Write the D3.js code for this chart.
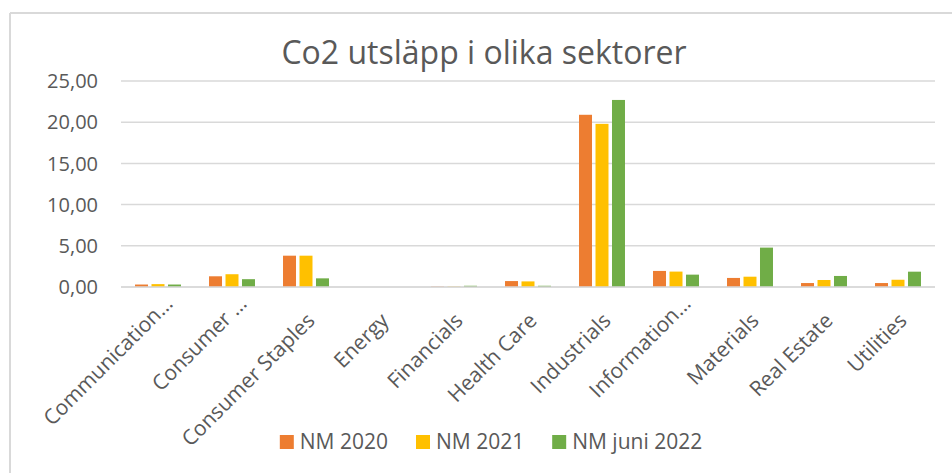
<!DOCTYPE html>
<html>
<head>
<meta charset="utf-8">
<script src="https://cdn.jsdelivr.net/npm/d3@7"></script>
<style>
  html, body { margin: 0; padding: 0; background: #fff; }
  svg { display: block; }
  text { font-family: "Open Sans", "Noto Sans", sans-serif; fill: #595959; }
</style>
</head>
<body>
<svg id="chart" width="952" height="473"></svg>
<script>
const title = "Co2 utsläpp i olika sektorer";
const categories = ["Communication…", "Consumer …", "Consumer Staples", "Energy", "Financials",
  "Health Care", "Industrials", "Information…", "Materials", "Real Estate", "Utilities"];
const seriesNames = ["NM 2020", "NM 2021", "NM juni 2022"];
const seriesColors = ["#ED7D31", "#FFC000", "#70AD47"];
const nm2020 = [0.30, 1.30, 3.80, 0.00, 0.05, 0.72, 20.90, 1.95, 1.10, 0.48, 0.48];
const nm2021 = [0.35, 1.55, 3.80, 0.00, 0.05, 0.68, 19.80, 1.87, 1.25, 0.85, 0.88];
const nmJuni2022 = [0.30, 0.95, 1.05, 0.00, 0.15, 0.15, 22.70, 1.50, 4.78, 1.34, 1.86];
const yTicks = [0, 5, 10, 15, 20, 25];

const seriesValues = [nm2020, nm2021, nmJuni2022];
const svg = d3.select("#chart");
const W = 952, H = 473;
const plot = { left: 121, right: 935, top: 81, bottom: 287 };
const gridColor = "#d9d9d9";

// chart frame (only top and left edges visible)
svg.append("line").attr("x1", 10).attr("x2", W).attr("y1", 13).attr("y2", 13)
  .attr("stroke", gridColor).attr("stroke-width", 2);
svg.append("line").attr("x1", 10).attr("x2", 10).attr("y1", 13).attr("y2", H)
  .attr("stroke", gridColor).attr("stroke-width", 2);

const x0 = d3.scaleBand().domain(categories).range([plot.left, plot.right]).paddingInner(0).paddingOuter(0);
const x1 = d3.scaleBand().domain(seriesNames).range([0, x0.bandwidth()]).paddingInner(0.212).paddingOuter(0.85);
const y = d3.scaleLinear().domain([0, 25]).range([plot.bottom, plot.top]);

// gridlines
svg.append("g").selectAll("line").data(yTicks).join("line")
  .attr("x1", plot.left).attr("x2", plot.right)
  .attr("y1", d => y(d)).attr("y2", d => y(d))
  .attr("stroke", gridColor).attr("stroke-width", 1.5);

// y tick labels
const fmt = d => d3.format(".2f")(d).replace(".", ",");
svg.append("g").selectAll("text").data(yTicks).join("text")
  .attr("x", 98).attr("y", d => y(d)).attr("dy", "0.36em")
  .attr("text-anchor", "end").style("font-size", "20px")
  .text(fmt);

// bars
const groups = svg.append("g").selectAll("g").data(categories).join("g")
  .attr("transform", d => `translate(${x0(d)},0)`);
groups.selectAll("rect").data((c, i) => seriesNames.map((s, k) => ({ s, k, v: seriesValues[k][i] })))
  .join("rect")
  .attr("x", d => x1(d.s)).attr("width", x1.bandwidth())
  .attr("y", d => y(d.v)).attr("height", d => y(0) - y(d.v))
  .attr("fill", d => seriesColors[d.k]);

// x axis line
svg.append("line").attr("x1", plot.left).attr("x2", plot.right)
  .attr("y1", y(0)).attr("y2", y(0)).attr("stroke", gridColor).attr("stroke-width", 1.5);

// x labels rotated
svg.append("g").selectAll("text").data(categories).join("text")
  .attr("transform", d => {
    const cx = x0(d) + x0.bandwidth() / 2;
    const trunc = d.endsWith("…");
    const px = cx + (trunc ? 16 : 10);
    const py = trunc ? 305 : 322;
    return `translate(${px},${py}) rotate(-45)`;
  })
  .attr("text-anchor", "end").style("font-size", "21px")
  .text(d => d);

// title
svg.append("text").attr("x", 484).attr("y", 64).attr("text-anchor", "middle")
  .style("font-size", "32px").text(title);

// legend
const legend = svg.append("g");
let lx = 0;
seriesNames.forEach((s, k) => {
  const g = legend.append("g");
  g.append("rect").attr("x", 0).attr("y", -14).attr("width", 14).attr("height", 14).attr("fill", seriesColors[k]);
  const t = g.append("text").attr("x", 20).attr("y", 0).style("font-size", "21px").text(s);
  const w = 20 + t.node().getComputedTextLength();
  g.attr("transform", `translate(${lx},449)`);
  lx += w + 28;
});
const totalW = lx - 28;
legend.attr("transform", `translate(${491 - totalW / 2},0)`);
</script>
</body>
</html>
